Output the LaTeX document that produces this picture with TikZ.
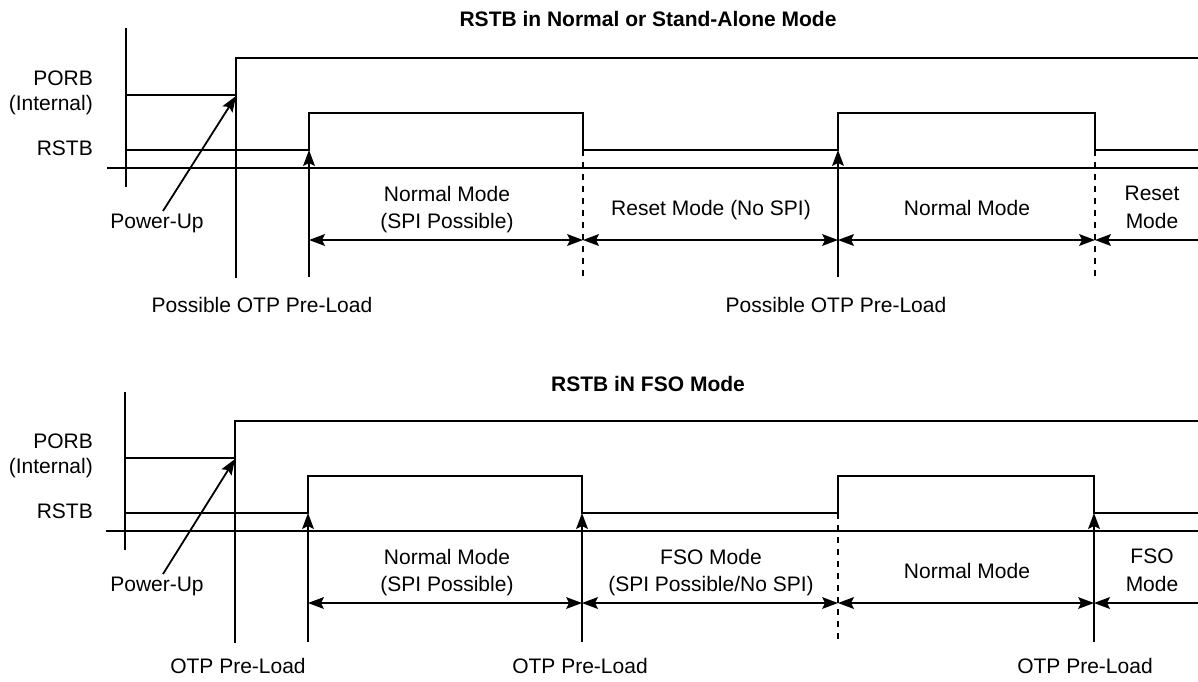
\documentclass[tikz,border=0pt]{standalone}
\usepackage{fontspec}
\setmainfont{Liberation Sans}
\begin{document}
\begin{tikzpicture}[x=1pt,y=-1pt,
  every node/.style={font=\fontsize{21}{25}\selectfont, inner sep=0pt, anchor=base},
  ttl/.style={font=\fontsize{21}{25}\selectfont\bfseries},
  lbl/.style={anchor=base east},
  sig/.style={line width=1.8pt, line join=miter},
  shend/.style={sig, shorten >=8pt},
  shboth/.style={sig, shorten >=8pt, shorten <=8pt},
  shstart/.style={sig, shorten <=8pt},
  dsh/.style={line width=1.5pt, dash pattern=on 6pt off 6pt},
  tiphead/.pic={\fill (0,0) -- (-16,6) -- (-13,0) -- (-16,-6) -- cycle;}
]
\useasboundingbox (0,0) rectangle (1198,681);

% ---------------- Top panel ----------------
\begin{scope}
\node[ttl] (t1) at (648,26) {RSTB in Normal or Stand-Alone Mode};
\node[lbl] (porb1) at (93,85) {PORB};
\node[lbl] (int1) at (93,110) {(Internal)};
\node[lbl] (rstb1) at (93,155) {RSTB};
\coordinate (ax1a) at (126,28); \coordinate (ax1b) at (126,187);
\coordinate (bl1a) at (107,168); \coordinate (bl1b) at (1198,168);
\draw[sig] (ax1a) -- (ax1b);
\draw[sig] (bl1a) -- (bl1b);
% PORB
\draw[sig] (126,95) -- (236,95) -- (236,58) -- (1198,58);
% RSTB
\draw[sig] (126,150) -- (309,150) -- (309,113) -- (583,113) -- (583,150) -- (838,150) -- (838,113) -- (1095,113) -- (1095,150) -- (1198,150);
% verticals
\coordinate (p1) at (236,58); \coordinate (p1b) at (236,278);
\draw[sig] (p1) -- (p1b);
\coordinate (r1) at (309,150); \coordinate (r1b) at (309,277);
\draw[shend] (r1b) -- (r1); \pic[rotate=90] at (r1) {tiphead};
\coordinate (f1) at (583,150); \coordinate (f1b) at (583,277);
\draw[dsh] (f1) -- (f1b);
\coordinate (r2) at (838,150); \coordinate (r2b) at (838,277);
\draw[shend] (r2b) -- (r2); \pic[rotate=90] at (r2) {tiphead};
\coordinate (f2) at (1095,150); \coordinate (f2b) at (1095,277);
\draw[dsh] (f2) -- (f2b);
% intervals
\coordinate (a1) at (309,240); \coordinate (a2) at (583,240);
\coordinate (a3) at (838,240); \coordinate (a4) at (1095,240);
\coordinate (a5) at (1198,240);
\draw[shboth] (a1) -- (a2);
\draw[shboth] (a2) -- (a3);
\draw[shboth] (a3) -- (a4);
\draw[shstart] (a4) -- (a5);
\pic[rotate=180] at (a1) {tiphead}; \pic at (a2) {tiphead};
\pic[rotate=180] at (a2) {tiphead}; \pic at (a3) {tiphead};
\pic[rotate=180] at (a3) {tiphead}; \pic at (a4) {tiphead};
\pic[rotate=180] at (a4) {tiphead};
% power-up
\node (pu1) at (157,228) {Power-Up};
\coordinate (pu1s) at (163,211); \coordinate (pu1e) at (236,96);
\draw[shend] (pu1s) -- (pu1e); \pic[rotate=57.6] at (pu1e) {tiphead};
% texts
\node (n1a) at (447,201) {Normal Mode};
\node (n1b) at (447,228) {(SPI Possible)};
\node (rm1) at (711,215) {Reset Mode (No SPI)};
\node (nm1) at (967,215) {Normal Mode};
\node (rs1a) at (1152,200) {Reset};
\node (rs1b) at (1152,228) {Mode};
\node (otp1) at (262,312) {Possible OTP Pre-Load};
\node (otp2) at (836,312) {Possible OTP Pre-Load};
\end{scope}

% ---------------- Bottom panel ----------------
\begin{scope}[shift={(0,363)}]
\node[ttl] (t2) at (648,28) {RSTB iN FSO Mode};
\node[lbl] (porb2) at (93,85) {PORB};
\node[lbl] (int2) at (93,110) {(Internal)};
\node[lbl] (rstb2) at (93,155) {RSTB};
\coordinate (ax2a) at (125,29); \coordinate (ax2b) at (125,187);
\coordinate (bl2a) at (106,168); \coordinate (bl2b) at (1198,168);
\draw[sig] (ax2a) -- (ax2b);
\draw[sig] (bl2a) -- (bl2b);
% PORB
\draw[sig] (125,95) -- (235,95) -- (235,58) -- (1198,58);
% RSTB
\draw[sig] (125,150) -- (308,150) -- (308,113) -- (582,113) -- (582,150) -- (838,150) -- (838,113) -- (1094,113) -- (1094,150) -- (1198,150);
% verticals
\coordinate (q1) at (235,58); \coordinate (q1b) at (235,280);
\draw[sig] (q1) -- (q1b);
\coordinate (s1) at (308,150); \coordinate (s1b) at (308,279);
\draw[shend] (s1b) -- (s1); \pic[rotate=90] at (s1) {tiphead};
\coordinate (g1) at (582,150); \coordinate (g1b) at (582,279);
\draw[shend] (g1b) -- (g1); \pic[rotate=90] at (g1) {tiphead};
\coordinate (s2) at (838,150); \coordinate (s2b) at (838,280);
\draw[dsh] (s2) -- (s2b);
\coordinate (g2) at (1094,150); \coordinate (g2b) at (1094,279);
\draw[shend] (g2b) -- (g2); \pic[rotate=90] at (g2) {tiphead};
% intervals
\coordinate (b1) at (308,240); \coordinate (b2) at (582,240);
\coordinate (b3) at (838,240); \coordinate (b4) at (1094,240);
\coordinate (b5) at (1198,240);
\draw[shboth] (b1) -- (b2);
\draw[shboth] (b2) -- (b3);
\draw[shboth] (b3) -- (b4);
\draw[shstart] (b4) -- (b5);
\pic[rotate=180] at (b1) {tiphead}; \pic at (b2) {tiphead};
\pic[rotate=180] at (b2) {tiphead}; \pic at (b3) {tiphead};
\pic[rotate=180] at (b3) {tiphead}; \pic at (b4) {tiphead};
\pic[rotate=180] at (b4) {tiphead};
% power-up
\node (pu2) at (157,228) {Power-Up};
\coordinate (pu2s) at (163,211); \coordinate (pu2e) at (235,96);
\draw[shend] (pu2s) -- (pu2e); \pic[rotate=57.6] at (pu2e) {tiphead};
% texts
\node (n2a) at (447,201) {Normal Mode};
\node (n2b) at (447,228) {(SPI Possible)};
\node (fs2a) at (711,201) {FSO Mode};
\node (fs2b) at (711,228) {(SPI Possible/No SPI)};
\node (nm2) at (967,215) {Normal Mode};
\node (fo2a) at (1152,200) {FSO};
\node (fo2b) at (1152,228) {Mode};
\node (otp3) at (238,310) {OTP Pre-Load};
\node (otp4) at (580,310) {OTP Pre-Load};
\node (otp5) at (1085,310) {OTP Pre-Load};
\end{scope}
\end{tikzpicture}
\end{document}
